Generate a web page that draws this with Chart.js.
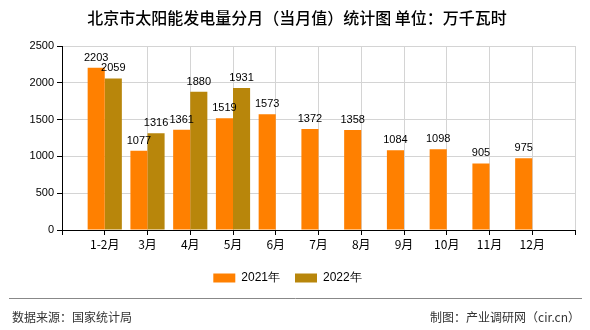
<!DOCTYPE html>
<html>
<head>
<meta charset="utf-8">
<script src="https://cdn.jsdelivr.net/npm/chart.js@4/dist/chart.umd.min.js"></script>
<style>
  html, body { margin: 0; padding: 0; background: #fff; }
  #wrap { width: 590px; height: 330px; position: relative; }
</style>
</head>
<body>
<div id="wrap"><canvas id="solarChart" width="590" height="330"></canvas></div>
<script>
// 月份及两年数据（万千瓦时）
let months = ["1-2月", "3月", "4月", "5月", "6月", "7月", "8月", "9月", "10月", "11月", "12月"];
let values2021 = [2203, 1077, 1361, 1519, 1573, 1372, 1358, 1084, 1098, 905, 975];
let values2022 = [2059, 1316, 1880, 1931, null, null, null, null, null, null, null];
let yTicks = [0, 500, 1000, 1500, 2000, 2500];

// 坐标轴两端留空位，标签落在中间的刻度上
const labels = [""].concat(months, [""]);
const pad = arr => [null].concat(arr, [null]);

const cjk = '"Noto Sans CJK SC", sans-serif';
const num = '"Liberation Sans", Arial, sans-serif';

// 柱顶数值 + 标题 + 底部说明
const extras = {
  id: 'extras',
  afterDatasetsDraw(chart) {
    const ctx = chart.ctx;
    ctx.save();
    ctx.font = '11px ' + num;
    ctx.fillStyle = '#000';
    ctx.textAlign = 'center';
    ctx.textBaseline = 'alphabetic';
    chart.data.datasets.forEach((ds, i) => {
      chart.getDatasetMeta(i).data.forEach((bar, j) => {
        const v = ds.data[j];
        if (v == null) return;
        ctx.fillText(String(v), bar.x, bar.y - 7);
      });
    });
    ctx.restore();
  },
  afterDraw(chart) {
    const ctx = chart.ctx;
    ctx.save();
    ctx.fillStyle = '#000';
    ctx.textAlign = 'center';
    ctx.textBaseline = 'middle';
    ctx.font = '500 16px ' + cjk;
    ctx.fillText('北京市太阳能发电量分月（当月值）统计图 单位：万千瓦时', 297, 18);

    ctx.strokeStyle = '#888';
    ctx.lineWidth = 1;
    ctx.beginPath();
    ctx.moveTo(9, 298.5);
    ctx.lineTo(582, 298.5);
    ctx.stroke();

    ctx.fillStyle = '#333';
    ctx.font = '12px ' + cjk;
    ctx.textAlign = 'left';
    ctx.fillText('数据来源：国家统计局', 12, 317);
    ctx.textAlign = 'right';
    ctx.fillText('制图：产业调研网（cir.cn）', 580, 317);
    ctx.restore();
  }
};

new Chart("solarChart", {
  type: 'bar',
  data: {
    labels: labels,
    datasets: [{
      label: '2021年',
      data: pad(values2021),
      backgroundColor: '#FF8000',
      borderWidth: 0,
      categoryPercentage: 0.8,
      barPercentage: 1.0
    }, {
      label: '2022年',
      data: pad(values2022),
      backgroundColor: '#B8860B',
      borderWidth: 0,
      categoryPercentage: 0.8,
      barPercentage: 1.0
    }]
  },
  options: {
    responsive: false,
    animation: false,
    layout: { padding: { left: 0, right: 15, top: 46, bottom: 36 } },
    plugins: {
      title: { display: false },
      tooltip: { enabled: false },
      legend: {
        position: 'bottom',
        labels: {
          boxWidth: 22,
          boxHeight: 9,
          padding: 15,
          color: '#000',
          font: { size: 12, family: num }
        }
      }
    },
    scales: {
      x: {
        offset: false,
        border: { color: '#000', width: 1 },
        grid: {
          offset: false,
          color: c => (c.index <= 1 ? 'rgba(0,0,0,0)' : '#d4d4d4'),
          tickColor: '#000',
          tickLength: 5
        },
        ticks: {
          autoSkip: false,
          maxRotation: 0,
          color: '#000',
          padding: 2,
          font: { size: 12, family: cjk }
        },
        afterFit: s => { s.height = 27; }
      },
      y: {
        min: 0,
        max: 2500,
        border: { color: '#000', width: 1 },
        grid: { color: '#d4d4d4', tickColor: '#000', tickLength: 5 },
        afterBuildTicks: s => { s.ticks = yTicks.map(v => ({ value: v })); },
        ticks: {
          color: '#000',
          padding: 3,
          font: { size: 11, family: num },
          callback: v => String(v)
        },
        afterFit: s => { s.width = 62; }
      }
    }
  },
  plugins: [extras]
});
</script>
</body>
</html>
